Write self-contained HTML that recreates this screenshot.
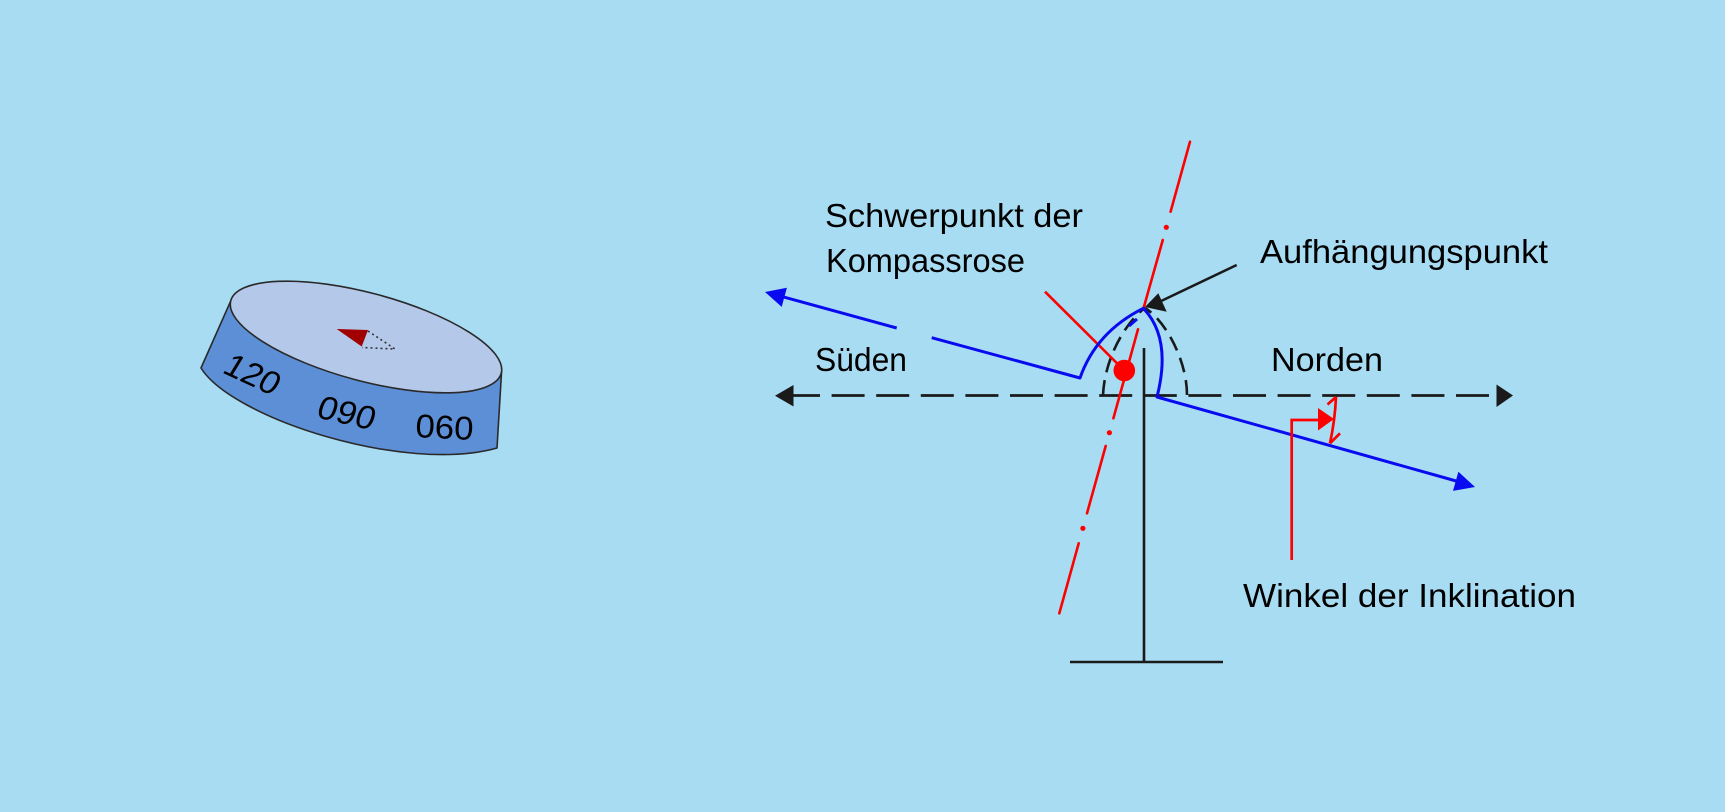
<!DOCTYPE html>
<html>
<head>
<meta charset="utf-8">
<style>
html,body{margin:0;padding:0;background:#a7dcf3;}
svg{display:block;}
text{font-family:"Liberation Sans",Arial,sans-serif;fill:#000;}
</style>
</head>
<body>
<svg width="1725" height="812" viewBox="0 0 1725 812" xmlns="http://www.w3.org/2000/svg">
<rect x="0" y="0" width="1725" height="812" fill="#a7dcf3"/>

<!-- Compass disc -->
<path d="M230.8,300.8 L201,368 C232,418 405,474 497,448 L501.7,369.5 Z" fill="#5d8fd6" stroke="#2a2a2a" stroke-width="1.6" stroke-linejoin="round"/>
<ellipse cx="366" cy="337" rx="140" ry="44" transform="rotate(15 366 337)" fill="#b4c8ea" stroke="#2a2a2a" stroke-width="1.6"/>
<polygon points="336.7,329 368,330 361.7,346.5" fill="#a00000"/>
<path d="M368,331 L395,349 L362,347.5" fill="none" stroke="#333" stroke-width="1.6" stroke-dasharray="2 3"/>
<text x="0" y="0" font-size="33" textLength="57" lengthAdjust="spacingAndGlyphs" transform="translate(221,372) rotate(25) skewX(-6)">120</text>
<text x="0" y="0" font-size="33" textLength="58" lengthAdjust="spacingAndGlyphs" transform="translate(315,417) rotate(13) skewX(-6)">090</text>
<text x="0" y="0" font-size="33" textLength="58" lengthAdjust="spacingAndGlyphs" transform="translate(415,437) rotate(3)">060</text>

<!-- Stand -->
<line x1="1144" y1="348" x2="1144" y2="662" stroke="#1a1a1a" stroke-width="2.6"/>
<line x1="1070" y1="662" x2="1223" y2="662" stroke="#1a1a1a" stroke-width="2.6"/>

<!-- Dashed horizontal axis -->
<line x1="787" y1="395.5" x2="1497" y2="395.5" stroke="#1a1a1a" stroke-width="2.7" stroke-dasharray="33 11.6"/>
<polygon points="775,395.7 793.5,385 793.5,406.5" fill="#1a1a1a"/>
<polygon points="1513,395.5 1496.5,384.5 1496.5,407" fill="#1a1a1a"/>

<!-- Black dashed arch -->
<path d="M1103,395 C1105,355 1128,320 1145,308" fill="none" stroke="#1a1a1a" stroke-width="2.6" stroke-dasharray="15 8"/>
<path d="M1187,395 C1187,360 1165,320 1145,308" fill="none" stroke="#1a1a1a" stroke-width="2.6" stroke-dasharray="15 8"/>

<!-- Red dash-dot axis -->
<g stroke="#ff0000" stroke-width="2.6" stroke-linecap="round">
<line x1="1190" y1="141.7" x2="1170.6" y2="211.7"/>
<line x1="1162.8" y1="240" x2="1143.6" y2="308"/>
<line x1="1138" y1="329.3" x2="1113.4" y2="418.3"/>
<line x1="1105.7" y1="446" x2="1087" y2="513.3"/>
<line x1="1078.7" y1="543.3" x2="1059.3" y2="613.3"/>
</g>
<g fill="#ff0000">
<circle cx="1166.3" cy="227.3" r="2.6"/>
<circle cx="1109.4" cy="432.7" r="2.6"/>
<circle cx="1082.9" cy="528.3" r="2.6"/>
</g>

<!-- Red pointer and centre of gravity -->
<line x1="1045" y1="291.7" x2="1124.3" y2="370.5" stroke="#ff0000" stroke-width="2.6"/>
<circle cx="1124.3" cy="370.5" r="10.8" fill="#ff0000"/>

<!-- Blue needle -->
<g fill="none" stroke="#0a0af0" stroke-width="3" stroke-linejoin="round">
<path d="M783,296.8 L896.7,328"/>
<path d="M931.7,337.7 L1080,378 Q1096,332 1143.3,308.3 Q1172,338 1157,397 L1458,481.5"/>
<path d="M1129,326 L1137,319"/>
</g>
<polygon points="765,292 786.9,287.7 781.7,306.9" fill="#0a0af0"/>
<polygon points="1475,487 1458.4,471.7 1453,490.9" fill="#0a0af0"/>

<!-- Black pointer to suspension point -->
<line x1="1236.7" y1="265" x2="1158" y2="302.5" stroke="#1a1a1a" stroke-width="2.6"/>
<polygon points="1145,307 1158.3,293.3 1166.7,311.7" fill="#1a1a1a"/>

<!-- Red inclination angle marker -->
<g fill="none" stroke="#ff0000" stroke-width="2.7">
<polyline points="1291.7,560 1291.7,420 1320,420"/>
<path d="M1336,397 Q1335,420 1330,443.3"/>
<path d="M1336,397 L1327.5,404.5"/>
<path d="M1330,443.3 L1340,433.3"/>
</g>
<polygon points="1318,408 1334,419 1318,430.5" fill="#ff0000"/>

<!-- Labels -->
<text x="825" y="227" font-size="33" textLength="258" lengthAdjust="spacingAndGlyphs">Schwerpunkt der</text>
<text x="826" y="272" font-size="33" textLength="199" lengthAdjust="spacingAndGlyphs">Kompassrose</text>
<text x="815" y="371" font-size="33" textLength="92" lengthAdjust="spacingAndGlyphs">Süden</text>
<text x="1260" y="263" font-size="33" textLength="288" lengthAdjust="spacingAndGlyphs">Aufhängungspunkt</text>
<text x="1271" y="371" font-size="33" textLength="112" lengthAdjust="spacingAndGlyphs">Norden</text>
<text x="1243" y="607" font-size="33" textLength="333" lengthAdjust="spacingAndGlyphs">Winkel der Inklination</text>
</svg>
</body>
</html>
